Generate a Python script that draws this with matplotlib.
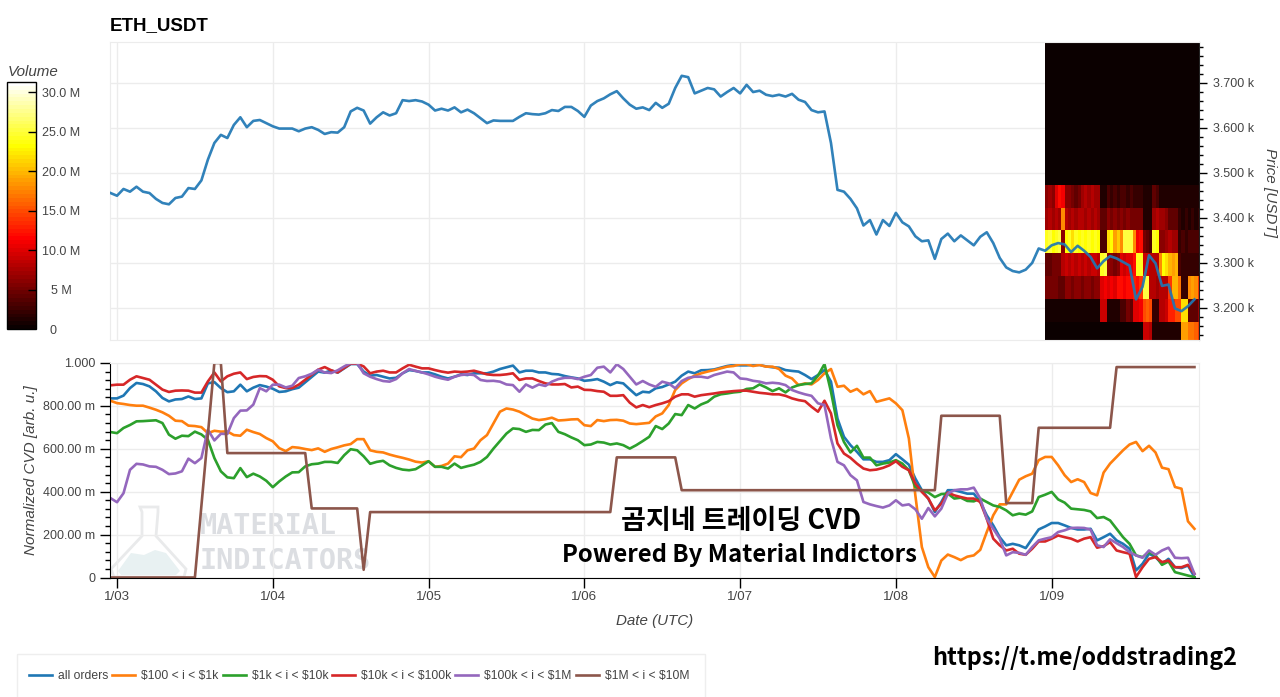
import numpy as np
import matplotlib
matplotlib.use("Agg")
import matplotlib.pyplot as plt
from matplotlib.cm import ScalarMappable
from matplotlib.colors import Normalize
from matplotlib.patches import Polygon, Rectangle
from matplotlib.ticker import AutoMinorLocator

###
### Data (hours counted from 1/03 00:00 UTC)
###
hours = np.arange(-1, 167)

price = [3455,3449,3464,3458,3469,3458,3455,3442,3433,3430,3444,3447,3466,3464,3483,3529,3566,
         3584,3577,3606,3623,3601,3615,3617,3610,3603,3598,3598,3598,3592,3598,3601,3595,3586,
         3590,3589,3601,3636,3644,3638,3609,3623,3634,3627,3632,3661,3659,3661,3658,3651,3638,
         3642,3638,3645,3634,3640,3632,3621,3610,3616,3615,3615,3615,3624,3632,3630,3629,3632,
         3639,3637,3646,3646,3637,3624,3649,3659,3665,3674,3681,3665,3651,3642,3645,3639,3655,
         3644,3653,3688,3715,3712,3676,3682,3688,3685,3669,3679,3688,3676,3695,3679,
         3682,3673,3670,3673,3669,3675,3662,3657,3639,3634,3636,3566,3462,3458,3442,3421,3383,
         3395,3363,3395,3382,3411,3390,3381,3359,3348,3350,3309,3353,3365,3348,3361,3350,3339,
         3358,3368,3344,3311,3290,3282,3279,3285,3300,3332,3327,
         3339,3344,3341,3324,3338,3327,3313,3288,3304,3315,3310,3302,3294,3219,3247,3317,3299,
         3249,3252,3199,3193,3204,3219]

all_orders = [835,835,848,883,907,902,891,868,837,821,830,832,844,832,835,
              905,911,883,864,868,899,868,885,897,890,880,865,868,878,885,910,935,960,955,965,955,975,
              995,995,960,941,944,936,928,931,952,967,963,956,956,947,936,928,936,947,944,952,952,952,
              960,972,980,988,956,964,964,956,956,949,947,939,933,928,917,920,925,
              913,897,910,905,877,850,866,863,882,888,900,913,941,960,952,966,967,970,978,986,991,989,
              989,991,991,984,980,978,967,963,960,944,925,944,967,913,741,656,617,586,551,551,539,
              539,547,575,551,526,461,407,368,305,352,407,407,399,391,391,352,290,243,188,150,157,150,
              137,181,224,238,254,254,243,231,224,224,227,173,188,204,173,157,134,33,64,111,95,64,87,
              48,44,56,2]

usd_100_1k = [824,813,809,804,801,801,792,782,770,754,731,729,708,706,701,673,684,680,681,664,661,
              689,678,669,650,635,603,589,608,605,599,594,602,586,599,607,616,622,645,645,593,
              586,583,573,565,558,550,540,536,542,516,520,531,565,561,593,601,640,664,718,773,788,783,
              773,757,741,734,738,745,732,734,737,738,710,706,734,
              729,734,735,731,718,715,718,721,751,765,804,874,905,925,941,952,960,967,975,983,986,994,
              994,986,991,983,983,972,941,928,897,905,900,921,952,972,889,894,866,879,854,869,819,827,
              835,812,
              780,648,383,142,48,2,79,107,95,81,97,103,129,212,290,341,341,399,456,472,484,547,562,562,
              523,477,445,458,445,394,383,489,531,562,593,620,632,589,614,583,512,505,422,414,262,227]

usd_1k_10k = [678,673,697,711,728,729,731,733,720,666,647,661,659,680,667,642,557,495,467,463,510,
              468,484,471,451,421,448,471,490,491,518,
              528,531,539,539,534,570,598,593,565,530,539,544,523,511,503,500,505,523,542,516,516,508,
              531,511,519,526,539,562,601,636,671,695,692,679,688,687,713,720,679,668,653,640,617,620,632,
              629,620,625,617,601,617,636,656,706,692,718,762,757,804,788,807,819,843,854,858,863,866,
              879,882,900,886,869,882,863,886,897,902,905,941,995,866,710,632,583,614,559,559,523,531,
              536,547,
              531,500,422,407,396,375,389,391,368,372,357,355,368,352,336,329,313,290,298,293,308,375,
              386,399,364,349,321,318,315,308,277,282,266,227,188,157,103,95,118,103,59,75,25,17,9,2]

usd_10k_100k = [896,899,899,922,938,930,922,899,876,865,871,872,871,862,862,914,956,914,938,950,956,
                925,935,939,938,922,891,883,883,899,922,946,969,981,966,956,977,997,997,984,
                952,960,964,956,956,975,992,983,975,975,967,960,955,960,958,960,964,956,947,944,944,947,
                952,921,928,928,916,905,900,900,902,886,890,875,874,869,
                866,847,847,850,815,793,804,794,804,812,822,843,854,854,843,850,854,858,863,866,869,871,
                871,866,861,858,854,854,847,835,827,822,796,773,824,765,625,578,558,531,508,500,503,511,523,
                542,516,500,438,399,368,313,344,396,383,375,368,368,352,274,181,150,126,134,111,106,134,
                168,168,181,196,188,181,168,181,188,139,146,165,126,118,111,2,48,87,95,72,79,48,48,59,17]

usd_100k_1m = [370,351,393,502,530,527,518,516,502,482,485,495,554,533,557,689,639,670,669,743,778,
               779,806,883,868,899,899,886,894,930,938,950,969,956,953,966,984,1000,1000,
               952,936,925,916,913,925,952,972,963,956,947,936,928,922,936,944,947,944,921,916,917,913,
               900,897,866,900,885,900,893,913,925,931,931,925,936,944,978,
               983,956,994,972,936,900,916,900,889,913,905,882,916,931,936,936,931,944,952,960,956,928,
               925,917,913,905,908,905,897,874,863,854,847,812,804,648,539,523,477,453,352,341,333,
               326,336,360,336,341,318,274,324,285,321,391,407,411,411,419,368,274,227,181,103,118,115,
               106,142,173,181,188,212,220,231,232,231,223,150,142,178,160,142,118,103,92,126,106,126,
               139,92,90,92,17]

# this one only changes at a few hours, so it is kept as its corner points
usd_1m_10m_hours = [-1,12,15,16,17,29,30,37,38,39,76,77,86,87,126,127,136,137,141,142,153,154,166]
usd_1m_10m = [0,0,1000,1000,580,580,322,322,36,305,305,560,560,407,407,754,754,347,347,698,698,981,981]

series_names = ["all orders", "$100 < i < $1k", "$1k < i < $10k",
                "$10k < i < $100k", "$100k < i < $1M", "$1M < i < $10M"]

day_ticks = [0, 24, 48, 72, 96, 120, 144]
day_labels = ["1/03", "1/04", "1/05", "1/06", "1/07", "1/08", "1/09"]
price_ticks = [3200, 3300, 3400, 3500, 3600, 3700]
price_labels = ["3.200 k", "3.300 k", "3.400 k", "3.500 k", "3.600 k", "3.700 k"]
cvd_ticks = [0, 200, 400, 600, 800, 1000]
cvd_labels = ["0", "200.00 m", "400.00 m", "600.00 m", "800.00 m", "1.000"]
vol_ticks = [0, 5, 10, 15, 20, 25, 30]
vol_labels = ["0    ", "5 M", "10.0 M", "15.0 M", "20.0 M", "25.0 M", "30.0 M"]

# volume heatmap, half hour columns starting at hour 143, in millions
heat_price_edges = [3120, 3170, 3221, 3271, 3322, 3372, 3422, 3472, 3790]
heat_volume = [
    [.3,.3,.3,.3,.3,.3,.3,.3,.3,.3,.3,.3,.3,.3,.3,.3,.3,.3,.3,.3,.3,.3,.3,.3,.3,.3,.3,.3,.3,.3,
     9,9,8,1,1,1,1,1,1,1,1,1,19,19,17,17,16,14],
    [.5,.5,.5,.5,.5,.5,.5,.5,.5,.5,.5,.5,.5,.5,.5,.5,.5,9,9,1,1,1,1,3,3,5,4,10,10,11,
     15,16,15,2,2,8,8,9,13,13,15,15,22,22,4,4,4,7],
    [5,5,5,5,4,4,6,6,5,6,6,5,6,6,5,6,6,10,11,10,11,10,12,12,11,12,12,13,12,14,
     25,25,8,8,7,8,8,8,14,20,20,17,2,2,18,19,18,14],
    [4,4,5,5,5,8,9,8,9,8,9,8,9,8,9,9,8,24,25,6,6,5,6,10,9,10,10,12,24,24,
     9,9,8,8,8,18,23,22,20,19,20,3,2,2,2,2,2,2],
    [24,25,23,24,25,6,23,24,22,24,23,24,23,24,23,24,23,3,3,22,23,19,21,18,25,25,25,18,11,12,
     5,4,3,24,23,6,6,7,8,7,7,2,3,2,3,3,3,3],
    [7,8,7,8,7,18,8,7,8,7,8,8,7,8,7,8,7,4,4,6,5,6,5,6,5,6,5,5,5,5,
     1,1,1,7,8,7,7,6,4,4,4,2,1,2,1,2,1,2],
    [6,7,6,10,12,11,6,6,5,4,5,7,8,7,8,7,7,1,1,3,2,3,2,3,3,2,3,2,2,2,
     1,1,1,4,3,1,1,1,1,1,1,1,1,1,1,1,1,1],
    [.4,.4,.4,.4,.4,.4,.4,.4,.4,.4,.4,.4,.4,.4,.4,.4,.4,.4,.4,.4,.4,.4,.4,.4,.4,.4,.4,.4,.4,.4,
     .4,.4,.4,.4,.4,.4,.4,.4,.4,.4,.4,.4,.4,.4,.4,.4,.4,.4],
]

###
### General configuration
###
W, H = 1280, 697
GRID = "#ececec"
TXT = "#444444"
LW = 1.9
plt.rcParams.update({"font.family": ["Liberation Sans", "DejaVu Sans"], "font.size": 9})

def box(left, top, right, bottom):
    return [left/W, 1-bottom/H, (right-left)/W, (bottom-top)/H]

def px(x, y):
    return (x/W, 1-y/H)

fig = plt.figure(figsize=(W/100, H/100), dpi=100)

###
### Price panel
###
ax1 = fig.add_axes(box(110, 42, 1199, 340))
ax1.set_xlim(-1.08, 166.7)
ax1.set_ylim(3129, 3790)
ax1.set_axisbelow(True)
ax1.grid(True, color=GRID, lw=1.0)
ax1.set_xticks(day_ticks)
ax1.tick_params(axis="x", length=0, labelbottom=False)
ax1.yaxis.tick_right()
ax1.set_yticks(price_ticks, price_labels)
ax1.yaxis.set_minor_locator(AutoMinorLocator(5))
ax1.tick_params(axis="y", which="major", length=6, width=1, labelcolor=TXT, labelsize=9, pad=4.4)
ax1.tick_params(axis="y", which="minor", length=3, width=1)
for s in ["top", "left", "bottom"]:
    ax1.spines[s].set_color(GRID)
ax1.spines["right"].set_color("#222222")

heat_edges = np.arange(143, 167.5, 0.5)
cmap = plt.get_cmap("hot", 64)
norm = Normalize(0, 31.3)
ax1.pcolormesh(heat_edges, heat_price_edges, np.array(heat_volume), cmap=cmap, norm=norm, zorder=2)
ax1.plot(hours, price, color="#1f77b4", lw=LW, zorder=3, alpha=0.92)

fig.text(110/W, 1-26/H, "ETH_USDT", fontsize=13.5, fontweight="bold", va="center", color="black")
fig.text(1270/W, 1-193/H, "Price [USDT]", rotation=270, style="italic", fontsize=11,
         color=TXT, ha="center", va="center")

###
### Volume colorbar
###
cax = fig.add_axes(box(7, 82, 36, 329))
cb = fig.colorbar(ScalarMappable(norm=norm, cmap=cmap), cax=cax)
cb.set_ticks(vol_ticks, labels=vol_labels)
cb.outline.set_edgecolor("black")
cb.outline.set_linewidth(1)
cax.tick_params(direction="in", length=6, width=1, labelcolor=TXT, labelsize=9, pad=18)
for t in cax.get_yticklabels():
    t.set_ha("center")
cax.yaxis.get_major_ticks()[0].tick2line.set_visible(False)
fig.text(8/W, 1-72/H, "Volume", style="italic", fontsize=10.9, color=TXT, va="center")

###
### CVD panel
###
ax2 = fig.add_axes(box(110, 363, 1199, 577.5))
ax2.set_xlim(-1.08, 166.7)
ax2.set_ylim(0, 1000)
ax2.set_axisbelow(True)
ax2.grid(True, color=GRID, lw=1.0)
ax2.set_xticks(day_ticks, day_labels)
ax2.set_yticks(cvd_ticks, cvd_labels)
ax2.yaxis.set_minor_locator(AutoMinorLocator(5))
ax2.tick_params(axis="both", which="major", length=7, width=1, labelcolor=TXT, labelsize=9)
ax2.tick_params(axis="y", which="minor", length=3.5, width=1)
ax2.tick_params(axis="x", pad=2.8, labelsize=9.6)
ax2.spines["top"].set_color(GRID)
ax2.spines["right"].set_color(GRID)
ax2.set_xlabel("Date (UTC)", style="italic", fontsize=10.9, color=TXT, labelpad=8)
ax2.set_ylabel("Normalized CVD [arb. u.]", style="italic", fontsize=11, color=TXT, labelpad=4)

###
### Watermark
###
flask = [px(140, 507), px(158, 507), px(158, 512), px(156, 536), px(186, 569), px(184, 577),
         px(114, 577), px(111, 569), px(142, 536), px(142, 512)]
water = [px(118, 571), px(131, 553), px(144, 555), px(155, 550), px(166, 553), px(180, 571),
         px(176, 575), px(121, 575)]
fig.add_artist(Polygon(flask, closed=True, fill=False, ec="#e9eaeb", lw=2, transform=fig.transFigure, zorder=1.1))
fig.add_artist(Polygon(water, closed=True, fc="#e8f1f2", ec="none", transform=fig.transFigure, zorder=1.1))
ax2.patch.set_alpha(0)
ax2.set_zorder(2)
for y, word in [(526, "MATERIAL"), (561, "INDICATORS")]:
    fig.text(200/W, 1-y/H, word, family="DejaVu Sans Mono", fontweight="bold",
             fontsize=20.5, color="#dcdee2", va="center", zorder=1.1)

###
### CVD lines
###
colors = ["#1f77b4", "#ff7f0e", "#2ca02c", "#d62728", "#9467bd"]
cvd_series = [all_orders, usd_100_1k, usd_1k_10k, usd_10k_100k, usd_100k_1m]
handles = []
for vals, col, name in zip(cvd_series, colors, series_names):
    line, = ax2.plot(hours, vals, color=col, lw=LW, label=name.replace("$", r"\$"))
    handles.append(line)
line, = ax2.plot(usd_1m_10m_hours, usd_1m_10m, color="#8c564b", lw=LW,
                 label=series_names[5].replace("$", r"\$"))
handles.append(line)

###
### Legend
###
fig.add_artist(Rectangle(px(17, 698), 688/W, 44/H, fc="white", ec="#eeeeee", lw=1, transform=fig.transFigure))
leg = fig.legend(handles=handles, ncol=6, loc="center left", bbox_to_anchor=px(29, 676),
                 bbox_transform=fig.transFigure, fontsize=8.7, frameon=False,
                 handlelength=1.9, handletextpad=0.5, columnspacing=0.33,
                 borderpad=0, borderaxespad=0, labelcolor=TXT)

###
### Added captions
###
CJK = ["Noto Sans CJK KR", "DejaVu Sans"]
fig.text(741/W, 1-521/H, "곰지네 트레이딩 CVD", family=CJK, fontweight="bold", fontsize=19.5,
         ha="center", va="center", color="black", zorder=5)
fig.text(739/W, 1-555/H, "Powered By Material Indictors", family=CJK, fontweight="bold", fontsize=17.2,
         ha="center", va="center", color="black", zorder=5)
fig.text(1084.5/W, 1-658/H, "https://t.me/oddstrading2", family=CJK, fontweight="bold", fontsize=16.8,
         ha="center", va="center", color="black", zorder=5)

fig.savefig("out.png", dpi=100)
